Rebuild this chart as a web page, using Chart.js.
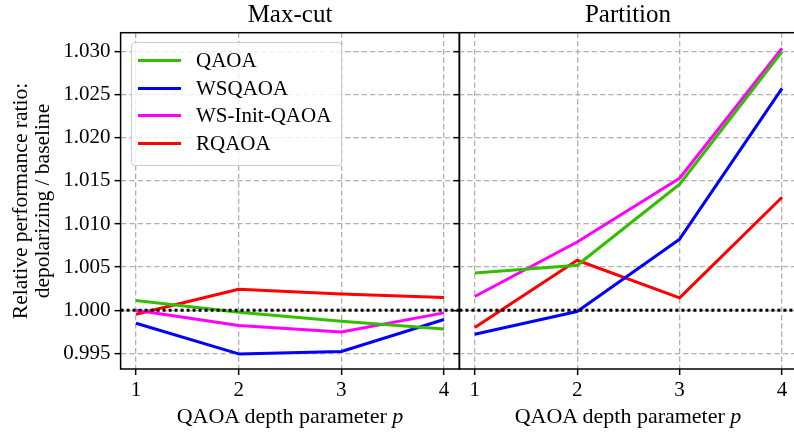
<!DOCTYPE html>
<html>
<head>
<meta charset="utf-8">
<script src="https://cdn.jsdelivr.net/npm/chart.js@4.4.1/dist/chart.umd.min.js"></script>
<style>
  html, body { margin: 0; padding: 0; background: #fff; overflow: hidden; }
  #wrap { position: relative; width: 794px; height: 432px; overflow: hidden; font-family: 'Liberation Serif', serif; color: #000; }
  canvas { position: absolute; top: 0; }
  #maxcut { left: 0; }
  #partition { left: 440px; }
  .title { position: absolute; top: 1px; width: 300px; text-align: center; font-size: 25px; line-height: 25px; }
  .xlabel { position: absolute; top: 405px; width: 320px; text-align: center; font-size: 22px; line-height: 22px; }
  .ylabel { position: absolute; left: -119px; top: 179px; width: 300px; height: 44px; text-align: center;
            font-size: 21.5px; line-height: 22px; transform: rotate(-90deg); transform-origin: center; }
  #legend { position: absolute; left: 131px; top: 42px; width: 209px; height: 118px; box-sizing: content-box;
            border: 1px solid #ccc; border-radius: 4px; background: rgba(255,255,255,0.8); padding-top: 4px; }
  .row { display: flex; align-items: center; height: 27.6px; font-size: 21px; line-height: 21px; }
  .swatch { width: 43px; height: 3px; margin-left: 6px; margin-right: 15px; }
</style>
</head>
<body>
<div id="wrap">
  <canvas id="maxcut" width="462" height="432"></canvas>
  <canvas id="partition" width="360" height="432"></canvas>
  <div class="title" style="left:140px">Max-cut</div>
  <div class="title" style="left:478px">Partition</div>
  <div class="xlabel" style="left:130px">QAOA depth parameter <i>p</i></div>
  <div class="xlabel" style="left:468px">QAOA depth parameter <i>p</i></div>
  <div class="ylabel">Relative performance ratio:<br>depolarizing / baseline</div>
  <div id="legend"></div>
</div>
<script>
const depths = [1, 2, 3, 4];
const yTicks = [0.995, 1.000, 1.005, 1.010, 1.015, 1.020, 1.025, 1.030];
const baseline = 1.0;

const seriesNames = ['QAOA', 'WSQAOA', 'WS-Init-QAOA', 'RQAOA'];
const seriesColors = ['#33bf00', '#0000ff', '#ff00ff', '#ff0000'];

// Max-cut ratios per depth
const maxcutQaoa = [1.00113, 0.99977, 0.99872, 0.99783];
const maxcutWs = [0.99849, 0.99493, 0.99521, 0.99892];
const maxcutWsInit = [1.00000, 0.99822, 0.99748, 0.99969];
const maxcutRq = [0.99954, 1.00244, 1.00189, 1.00147];

// Partition ratios per depth
const partQaoa = [1.00433, 1.00522, 1.01462, 1.03000];
const partWs = [0.99722, 0.99985, 1.00824, 1.02575];
const partWsInit = [1.00159, 1.00792, 1.01531, 1.03040];
const partRq = [0.99799, 1.00580, 1.00143, 1.01311];

const X_MIN = 0.85, X_MAX = 4.15;
const Y_MIN = 0.99318, Y_MAX = 1.0322;
const FONT = { family: 'Liberation Serif', size: 21 };

// full box around the plot area, drawn over the lines like matplotlib spines
const frame = {
  id: 'frame',
  afterDatasetsDraw(chart) {
    const { ctx, chartArea: a } = chart;
    ctx.save();
    ctx.strokeStyle = '#000';
    ctx.lineWidth = 1.5;
    ctx.strokeRect(a.left, a.top, a.right - a.left, a.bottom - a.top);
    ctx.restore();
  }
};

function buildDatasets(values) {
  const sets = values.map((vals, i) => ({
    label: seriesNames[i],
    data: vals.map((v, j) => ({ x: depths[j], y: v })),
    borderColor: seriesColors[i],
    borderWidth: 3,
    pointRadius: 0,
    tension: 0,
    borderJoinStyle: 'round',
    order: i + 1,
  }));
  sets.push({
    label: 'baseline',
    data: [{ x: X_MIN, y: baseline }, { x: X_MAX, y: baseline }],
    borderColor: '#000',
    borderWidth: 3,
    borderDash: [3, 3],
    pointRadius: 0,
    order: 0,
  });
  return sets;
}

function gridOpts() {
  return {
    color: '#b0b0b0',
    lineWidth: 1.3,
    drawTicks: true,
    tickLength: 6,
    tickColor: '#000',
    tickWidth: 1.5,
    tickBorderDash: [],
  };
}

function makeChart(id, values, opts) {
  return new Chart(document.getElementById(id), {
    type: 'line',
    data: { datasets: buildDatasets(values) },
    options: {
      responsive: false,
      animation: false,
      events: [],
      layout: { padding: { top: 32.7, right: opts.padRight, left: 0, bottom: 0 } },
      plugins: { legend: { display: false }, tooltip: { enabled: false }, title: { display: false } },
      scales: {
        x: {
          type: 'linear',
          min: X_MIN,
          max: X_MAX,
          afterBuildTicks: (s) => { s.ticks = depths.map((v) => ({ value: v })); },
          afterFit: (s) => { s.height = 63; },
          grid: gridOpts(),
          border: { display: false, dash: [5.3, 3] },
          ticks: { color: '#000', font: FONT, padding: 3, maxRotation: 0, callback: (v) => String(v) },
        },
        y: {
          min: Y_MIN,
          max: Y_MAX,
          afterBuildTicks: (s) => { s.ticks = yTicks.map((v) => ({ value: v })); },
          afterFit: (s) => { s.width = opts.yWidth; },
          grid: gridOpts(),
          border: { display: false, dash: [5.3, 3] },
          ticks: { display: opts.yLabels, color: '#000', font: FONT, padding: 4, callback: (v) => v.toFixed(3) },
        },
      },
    },
    plugins: [frame],
  });
}

makeChart('maxcut', [maxcutQaoa, maxcutWs, maxcutWsInit, maxcutRq], { yWidth: 120.6, padRight: 2.6, yLabels: true });
makeChart('partition', [partQaoa, partWs, partWsInit, partRq], { yWidth: 19.4, padRight: 2.6, yLabels: false });

// legend box in the Max-cut panel
const legendEl = document.getElementById('legend');
seriesNames.forEach((name, i) => {
  const row = document.createElement('div');
  row.className = 'row';
  row.innerHTML = `<span class="swatch" style="background:${seriesColors[i]}"></span><span>${name}</span>`;
  legendEl.appendChild(row);
});
</script>
</body>
</html>
